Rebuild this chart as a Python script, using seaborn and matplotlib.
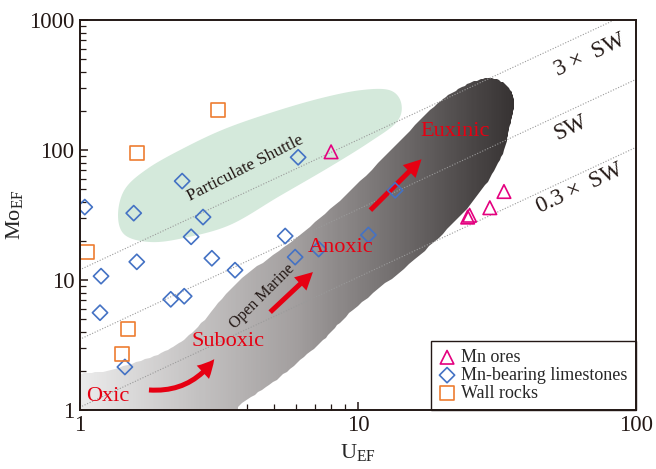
import numpy as np
import pandas as pd
import matplotlib
matplotlib.use("Agg")
import matplotlib.pyplot as plt
import seaborn as sns
from matplotlib.patches import PathPatch, FancyArrowPatch
from matplotlib.path import Path
from matplotlib.colors import LinearSegmentedColormap


# sample data
ores_u = [8.0, 24.8, 25.2, 29.8, 33.5]
ores_mo = [97, 30.5, 31.5, 36, 48]

lime_u = [1.04, 1.19, 1.18, 1.56, 1.60, 2.33, 2.51, 2.77, 2.98, 3.61,
          2.12, 2.37, 1.45, 6.09, 5.47, 5.94, 7.22, 10.9, 13.6]
lime_mo = [36.4, 10.7, 5.6, 32.7, 13.8, 57.7, 21.5, 30.5, 14.7, 11.9,
           7.1, 7.5, 2.14, 88, 21.8, 15.0, 17.3, 22.2, 49]

wall_u = [3.14, 1.60, 1.06, 1.49, 1.42]
wall_mo = [203, 95, 16.4, 4.2, 2.7]

# Mo/U reference lines (3xSW, SW, 0.3xSW)
sw_ratio = [12.0, 3.5, 1.05]
sw_labels = ["3 \u00d7  SW", "SW", "0.3 \u00d7  SW"]

# outline of the "Particulate Shuttle" field
shuttle_u = [1.37, 1.45, 1.75, 2.35, 3.3, 4.9, 7.3, 10.2, 13.0, 14.3,
             13.8, 11.0, 7.9, 5.2, 3.46, 2.35, 1.79, 1.45]
shuttle_mo = [31.6, 50, 72, 103, 145, 195, 250, 289, 289, 230,
              165, 115, 74, 44, 26.5, 21.0, 19.6, 22.2]

# outline of the "Open Marine" band
band_u = [0.92, 1.29, 1.96, 2.59, 3.70, 6.19, 10.2, 18.2, 23.3, 29.1, 33.8,
          36.4, 35.2, 32.4, 25.3, 16.7, 9.6, 7.3, 5.24, 3.76, 3.32, 0.85]
band_mo = [1.73, 2.03, 2.74, 4.12, 9.66, 22.2, 57.8, 203, 300, 358, 322,
           242, 156, 83.8, 37.7, 15.6, 5.88, 3.28, 1.79, 1.09, 0.84, 0.84]

groups = {
    "Mn ores": (ores_u, ores_mo, "^", "#e4007f", 95),
    "Mn-bearing limestones": (lime_u, lime_mo, "D", "#4472c4", 60),
    "Wall rocks": (wall_u, wall_mo, "s", "#ed7d31", 100),
}

RED = "#e60012"
INK = "#231815"
SERIF = "Liberation Serif"


def smooth_closed(xs, ys, n=16):
    # closed Catmull-Rom spline in log space
    P = np.column_stack([np.log10(xs), np.log10(ys)])
    N = len(P)
    t = np.linspace(0, 1, n, endpoint=False)[:, None]
    out = []
    for i in range(N):
        p0, p1, p2, p3 = P[i - 1], P[i], P[(i + 1) % N], P[(i + 2) % N]
        out.append(0.5 * (2 * p1 + (-p0 + p2) * t
                          + (2 * p0 - 5 * p1 + 4 * p2 - p3) * t ** 2
                          + (-p0 + 3 * p1 - 3 * p2 + p3) * t ** 3))
    out = np.vstack(out)
    return 10 ** out[:, 0], 10 ** out[:, 1]


sns.set_style("ticks")
plt.rcParams["font.family"] = [SERIF, "DejaVu Serif"]
plt.rcParams["mathtext.fontset"] = "custom"
plt.rcParams["mathtext.rm"] = SERIF

fig = plt.figure(figsize=(6.56, 4.69), dpi=100)
ax = fig.add_axes([0.122, 0.126, 0.8475, 0.831])
ax.set_xscale("log")
ax.set_yscale("log")
ax.set_xlim(1, 100)
ax.set_ylim(1, 1000)

# particulate shuttle field
sx, sy = smooth_closed(shuttle_u, shuttle_mo)
ax.fill(sx, sy, color="#d4e9db", lw=0, zorder=1)

# open marine band with horizontal gradient
bx, by = smooth_closed(band_u, band_mo, n=12)
band_patch = PathPatch(Path(np.column_stack([bx, by]), closed=True),
                       facecolor="none", edgecolor="none")
ax.add_patch(band_patch)
gx = np.logspace(-0.1, 1.7, 300)
gy = np.array([0.5, 2000])
cmap = LinearSegmentedColormap.from_list("band", ["#ebebeb", "#a29e9e", "#363232"])
grad = np.log10(gx[:-1] * np.sqrt(gx[1] / gx[0]))[None, :]
mesh = ax.pcolormesh(gx, gy, grad, cmap=cmap, vmin=0, vmax=1.56,
                     shading="flat", zorder=1.5, rasterized=True)
mesh.set_clip_path(band_patch)

# seawater Mo/U lines
u_line = np.array([0.5, 200])
for r in sw_ratio:
    ax.plot(u_line, r * u_line, color="#9a9a9a", lw=0.8,
            linestyle=(0, (1, 1.5)), zorder=2)

# samples
for name, (u, mo, m, c, s) in groups.items():
    sns.scatterplot(x=u, y=mo, marker=m, s=s, facecolor="none",
                    edgecolor=c, linewidth=1.2, label=name, ax=ax,
                    zorder=5, clip_on=True)

# arrows
arrow_kw = dict(arrowstyle="simple,tail_width=3.6,head_width=13,head_length=12.5",
                color=RED, lw=0, zorder=4)
ax.add_patch(FancyArrowPatch((1.73, 1.43), (3.08, 2.56),
                             connectionstyle="arc3,rad=0.3", **arrow_kw))
ax.add_patch(FancyArrowPatch((4.75, 5.47), (7.0, 11.9), **arrow_kw))
ax.add_patch(FancyArrowPatch((10.9, 33.3), (17.2, 88), **arrow_kw))

# redox labels
for txt, xy in [("Oxic", (1.26, 1.26)), ("Suboxic", (3.41, 3.38)),
                ("Anoxic", (8.69, 17.9)), ("Euxinic", (22.3, 140))]:
    ax.text(*xy, txt, color=RED, fontsize=16, ha="center", va="center", zorder=6)

ax.text(3.92, 72.7, "Particulate Shuttle", fontsize=12.5, rotation=27,
        ha="center", va="center", color=INK, zorder=6)
ax.text(4.52, 7.53, "Open Marine", fontsize=11.5, rotation=45,
        ha="center", va="center", color=INK, zorder=6)

for txt, xy in zip(sw_labels, [(68.3, 538), (58.4, 147.6), (63.0, 51)]):
    ax.text(*xy, txt, fontsize=16.5, rotation=25, ha="center", va="center",
            color=INK, zorder=6)

ax.set_xlabel("U$_{\\mathrm{EF}}$", fontsize=16, labelpad=4)
ax.set_ylabel("Mo$_{\\mathrm{EF}}$", fontsize=16, labelpad=2)

ax.set_xticks([1, 10, 100])
ax.set_xticklabels(["1", "10", "100"])
ax.set_yticks([1, 10, 100, 1000])
ax.set_yticklabels(["1", "10", "100", "1000"])
ax.tick_params(which="both", direction="in", colors=INK,
               labelsize=16.5, top=False, right=False)
ax.tick_params(which="major", length=6, width=1.1, pad=4)
ax.tick_params(which="minor", length=4, width=0.9)
for sp in ax.spines.values():
    sp.set_linewidth(1.4)
    sp.set_color(INK)
    sp.set_zorder(10)

leg = ax.legend(loc="lower right", fontsize=13, frameon=True, fancybox=False,
                framealpha=1, edgecolor=INK, borderaxespad=0,
                labelspacing=0.05, handletextpad=0.35, handlelength=0.9,
                borderpad=0.45)
leg.get_frame().set_linewidth(1.0)
leg.set_zorder(8)

fig.savefig("out.png", dpi=100)
